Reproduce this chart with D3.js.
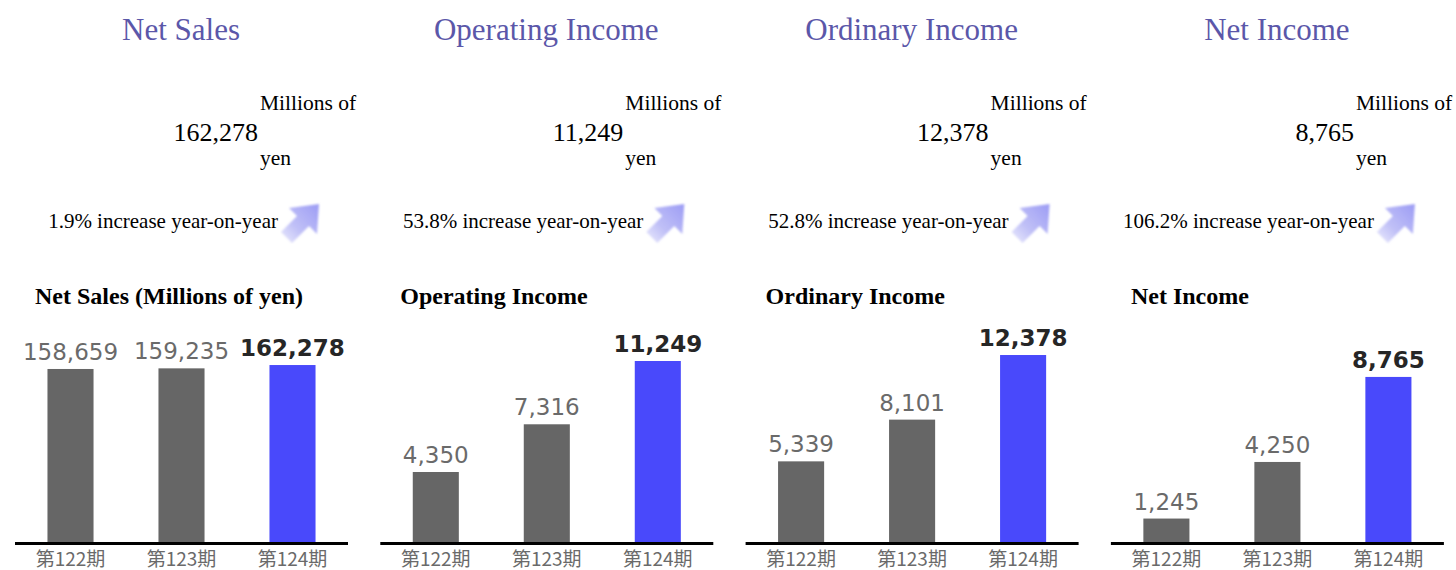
<!DOCTYPE html>
<html>
<head>
<meta charset="utf-8">
<script src="https://cdn.jsdelivr.net/npm/d3@7"></script>
<style>
  body { margin: 0; background: #fff; }
  svg { display: block; }
</style>
</head>
<body>
<svg id="chart"></svg>
<script>
var width = 1456;
var height = 570;

// data
var periods = ["第122期", "第123期", "第124期"];
var metrics = ["Net Sales", "Operating Income", "Ordinary Income", "Net Income"];
var chartTitles = ["Net Sales (Millions of yen)", "Operating Income", "Ordinary Income", "Net Income"];
var netSales = [158659, 159235, 162278];
var operatingIncome = [4350, 7316, 11249];
var ordinaryIncome = [5339, 8101, 12378];
var netIncome = [1245, 4250, 8765];
var yoyIncrease = [1.9, 53.8, 52.8, 106.2];
var yMax = [183400, 12430, 13240, 10620];   // top of each panel's value axis

var series = [netSales, operatingIncome, ordinaryIncome, netIncome];

var panelW = 365.3;
var fmt = d3.format(",");

var svg = d3.select("#chart")
    .attr("width", width)
    .attr("height", height);

var defs = svg.append("defs");
var grad = defs.append("linearGradient")
    .attr("id", "arrowGrad")
    .attr("x1", "0%").attr("y1", "100%")
    .attr("x2", "100%").attr("y2", "0%");
grad.append("stop").attr("offset", "0%").attr("stop-color", "#ececfc");
grad.append("stop").attr("offset", "40%").attr("stop-color", "#c0c0f7");
grad.append("stop").attr("offset", "100%").attr("stop-color", "#9c9cf4");
defs.append("filter").attr("id", "soft")
    .append("feGaussianBlur").attr("stdDeviation", 0.8);

var x = d3.scaleBand()
    .domain(periods)
    .range([0, 333])
    .paddingInner(0.585)
    .paddingOuter(0.2925);

var baseY = 542;
var plotH = 200;

var panels = svg.selectAll("g.panel")
    .data(metrics)
    .enter()
    .append("g")
    .attr("class", "panel")
    .attr("transform", function (d, i) { return "translate(" + (i * panelW) + ",0)"; });

// headline block
panels.append("text")
    .attr("x", 181)
    .attr("y", 40)
    .attr("text-anchor", "middle")
    .style("font-family", "'Liberation Serif', 'Times New Roman', serif")
    .style("font-size", "31px")
    .style("fill", "#5b57a9")
    .text(function (d) { return d; });

panels.append("text")
    .attr("x", 260)
    .attr("y", 110)
    .style("font-family", "'Liberation Serif', serif")
    .style("font-size", "21.5px")
    .style("fill", "#000")
    .text("Millions of");

panels.append("text")
    .attr("x", 258)
    .attr("y", 141)
    .attr("text-anchor", "end")
    .style("font-family", "'Liberation Serif', serif")
    .style("font-size", "26px")
    .style("fill", "#000")
    .text(function (d, i) { return fmt(series[i][series[i].length - 1]); });

panels.append("text")
    .attr("x", 260)
    .attr("y", 165)
    .style("font-family", "'Liberation Serif', serif")
    .style("font-size", "21.5px")
    .style("fill", "#000")
    .text("yen");

panels.append("text")
    .attr("x", 278)
    .attr("y", 228)
    .attr("text-anchor", "end")
    .style("font-family", "'Liberation Serif', serif")
    .style("font-size", "21px")
    .style("fill", "#000")
    .text(function (d, i) { return yoyIncrease[i] + "% increase year-on-year"; });

// up-right arrow icon
panels.append("path")
    .attr("transform", "translate(280,203)")
    .attr("d", "M1 29 L17 13 L9 5 L39 1 L37 31 L29 23 L12 40 Z")
    .attr("fill", "url(#arrowGrad)")
    .attr("filter", "url(#soft)");

// bar charts
var charts = panels.append("g")
    .attr("transform", "translate(15,0)");

charts.append("text")
    .attr("x", 20)
    .attr("y", 304)
    .style("font-family", "'Liberation Serif', serif")
    .style("font-weight", "bold")
    .style("font-size", "24px")
    .style("fill", "#000")
    .text(function (d, i) { return chartTitles[i]; });

charts.each(function (m, i) {
  var g = d3.select(this);
  var y = d3.scaleLinear()
      .domain([0, yMax[i]])
      .range([baseY, baseY - plotH]);
  var vals = series[i];
  var last = vals.length - 1;

  g.selectAll("rect.bar")
      .data(vals)
      .enter()
      .append("rect")
      .attr("class", "bar")
      .attr("x", function (d, j) { return x(periods[j]); })
      .attr("y", function (d) { return y(d); })
      .attr("width", x.bandwidth())
      .attr("height", function (d) { return baseY - y(d); })
      .attr("fill", function (d, j) { return j === last ? "#4949fb" : "#666666"; });

  g.selectAll("text.val")
      .data(vals)
      .enter()
      .append("text")
      .attr("class", "val")
      .attr("x", function (d, j) { return x(periods[j]) + x.bandwidth() / 2; })
      .attr("y", function (d) { return y(d) - 9; })
      .attr("text-anchor", "middle")
      .style("font-family", "'DejaVu Sans', sans-serif")
      .style("font-size", "23px")
      .style("font-weight", function (d, j) { return j === last ? "bold" : "normal"; })
      .style("fill", function (d, j) { return j === last ? "#262626" : "#6a6a6a"; })
      .text(function (d) { return fmt(d); });

  g.append("line")
      .attr("x1", 0)
      .attr("x2", 333)
      .attr("y1", baseY + 1.5)
      .attr("y2", baseY + 1.5)
      .attr("stroke", "#000")
      .attr("stroke-width", 3);

  g.selectAll("text.cat")
      .data(periods)
      .enter()
      .append("text")
      .attr("class", "cat")
      .attr("x", function (d) { return x(d) + x.bandwidth() / 2; })
      .attr("y", 566)
      .attr("text-anchor", "middle")
      .style("font-family", "'Noto Sans CJK JP', sans-serif")
      .style("font-size", "19px")
      .style("fill", "#6a6a6a")
      .text(function (d) { return d; });
});
</script>
</body>
</html>
